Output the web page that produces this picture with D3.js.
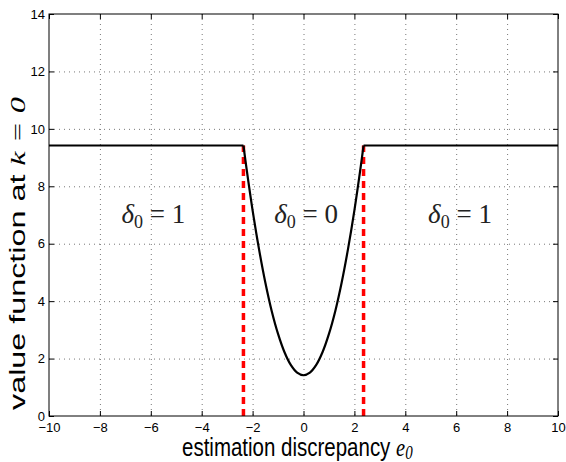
<!DOCTYPE html>
<html>
<head>
<meta charset="utf-8">
<script src="https://cdn.jsdelivr.net/npm/d3@7"></script>
<style>
  body { margin: 0; background: #fff; }
  .tick-label { font-family: "Liberation Sans", Arial, sans-serif; font-size: 13px; fill: #000; }
  .axis-label { font-family: "Liberation Sans", Arial, sans-serif; fill: #000; }
  .math { font-family: "Liberation Serif", "DejaVu Serif", serif; font-style: italic; }
  .region { font-family: "Liberation Serif", "DejaVu Serif", serif; font-size: 27px; fill: #222; }
</style>
</head>
<body>
<svg id="chart" width="566" height="462"></svg>
<script>
// value function
const threshold = 2.36
const flatValue = 9.42
const leftFlatE = [-10, -threshold]
const rightFlatE = [threshold, 10]
const curveE = [-2.36, -2.25, -2, -1.75, -1.5, -1.25, -1, -0.75, -0.5, -0.25, 0,
    0.25, 0.5, 0.75, 1, 1.25, 1.5, 1.75, 2, 2.25, 2.36]
const curveV = [9.42, 8.69, 7.16, 5.82, 4.65, 3.66, 2.86, 2.23, 1.78, 1.51, 1.42,
    1.51, 1.78, 2.23, 2.86, 3.66, 4.65, 5.82, 7.16, 8.69, 9.42]
const xTicks = [-10, -8, -6, -4, -2, 0, 2, 4, 6, 8, 10]
const yTicks = [0, 2, 4, 6, 8, 10, 12, 14]
const regionLabels = [
    { e: -5.9, v: 6.73, delta: "1" },
    { e: 0.1, v: 6.73, delta: "0" },
    { e: 6.15, v: 6.73, delta: "1" },
]

const svg = d3.select("#chart")
const margin = { top: 14, right: 8, bottom: 46, left: 49 }
const width = +svg.attr("width") - margin.left - margin.right
const height = +svg.attr("height") - margin.top - margin.bottom

const x = d3.scaleLinear().domain([-10, 10]).range([0, width])
const y = d3.scaleLinear().domain([0, 14]).range([height, 0])

const g = svg.append("g").attr("transform", "translate(" + margin.left + "," + margin.top + ")")

// grid
g.selectAll(".vgrid").data(xTicks.slice(1, -1)).enter().append("line")
    .attr("x1", d => x(d) + 0.5).attr("x2", d => x(d) + 0.5)
    .attr("y1", 0).attr("y2", height)
    .attr("stroke", "#777").attr("stroke-width", 1).attr("stroke-dasharray", "1,4")
g.selectAll(".hgrid").data(yTicks.slice(1, -1)).enter().append("line")
    .attr("y1", d => y(d) + 0.5).attr("y2", d => y(d) + 0.5)
    .attr("x1", 0).attr("x2", width)
    .attr("stroke", "#777").attr("stroke-width", 1).attr("stroke-dasharray", "1,4")

// axes (matlab box, ticks inward)
const tickLen = 5
const xBottom = d3.axisBottom(x).tickValues(xTicks).tickSize(-tickLen).tickPadding(7)
    .tickFormat(d => d < 0 ? "\u2212" + Math.abs(d) : d)
const xTop = d3.axisTop(x).tickValues(xTicks).tickSize(-tickLen).tickFormat("")
const yLeft = d3.axisLeft(y).tickValues(yTicks).tickSize(-tickLen).tickPadding(4)
const yRight = d3.axisRight(y).tickValues(yTicks).tickSize(-tickLen).tickFormat("")

const styleAxis = sel => {
    sel.select(".domain").remove()
    sel.selectAll("line").attr("stroke", "#000")
    sel.selectAll("text").attr("class", "tick-label").attr("fill", "#000")
}
g.append("g").attr("transform", "translate(0," + height + ")").call(xBottom).call(styleAxis)
g.append("g").call(xTop).call(styleAxis)
g.append("g").call(yLeft).call(styleAxis)
g.append("g").attr("transform", "translate(" + width + ",0)").call(yRight).call(styleAxis)

// red dashed thresholds
g.selectAll(".thr").data([-threshold, threshold]).enter().append("line")
    .attr("x1", d => x(d)).attr("x2", d => x(d))
    .attr("y1", y(0)).attr("y2", y(flatValue))
    .attr("stroke", "#ff0000").attr("stroke-width", 3.5).attr("stroke-dasharray", "7,5")

// value function
const flatLine = d3.line().x(d => x(d)).y(() => y(flatValue))
g.append("path").datum(leftFlatE).attr("d", flatLine)
    .attr("fill", "none").attr("stroke", "#000").attr("stroke-width", 2.2)
g.append("path").datum(rightFlatE).attr("d", flatLine)
    .attr("fill", "none").attr("stroke", "#000").attr("stroke-width", 2.2)
const curveLine = d3.line().x((d, i) => x(curveE[i])).y(d => y(d)).curve(d3.curveCatmullRom)
g.append("path").datum(curveV).attr("d", curveLine)
    .attr("fill", "none").attr("stroke", "#000").attr("stroke-width", 2.2)

// frame
g.append("rect").attr("x", 0).attr("y", 0).attr("width", width).attr("height", height)
    .attr("fill", "none").attr("stroke", "#000").attr("stroke-width", 1)

// region labels
regionLabels.forEach(r => {
    const t = g.append("text").attr("class", "region")
        .attr("x", x(r.e)).attr("y", y(r.v)).attr("text-anchor", "middle")
    t.append("tspan").attr("font-style", "italic").text("\u03b4")
    t.append("tspan").attr("font-size", "18px").attr("dy", 5).text("0")
    t.append("tspan").attr("dy", -5).text(" = " + r.delta)
})

// axis labels (source figure is stretched vertically)
const xl = svg.append("text").attr("class", "axis-label")
    .attr("transform", "translate(182,456) scale(1,1.25)")
    .attr("text-anchor", "start").attr("font-size", "20.5px")
xl.append("tspan").text("estimation discrepancy ")
xl.append("tspan").attr("class", "math").text("e")
xl.append("tspan").attr("class", "math").attr("font-style", "normal").attr("font-size", "15px").attr("dy", 2).text("0")

const yl = svg.append("text").attr("class", "axis-label")
    .attr("transform", "translate(25,410) scale(1,1.47) rotate(-90)")
    .attr("text-anchor", "start").attr("font-size", "22px")
yl.append("tspan").text("value function at ")
yl.append("tspan").attr("class", "math").text("k")
yl.append("tspan").attr("class", "math").attr("font-style", "normal").text(" = 0")
</script>
</body>
</html>
